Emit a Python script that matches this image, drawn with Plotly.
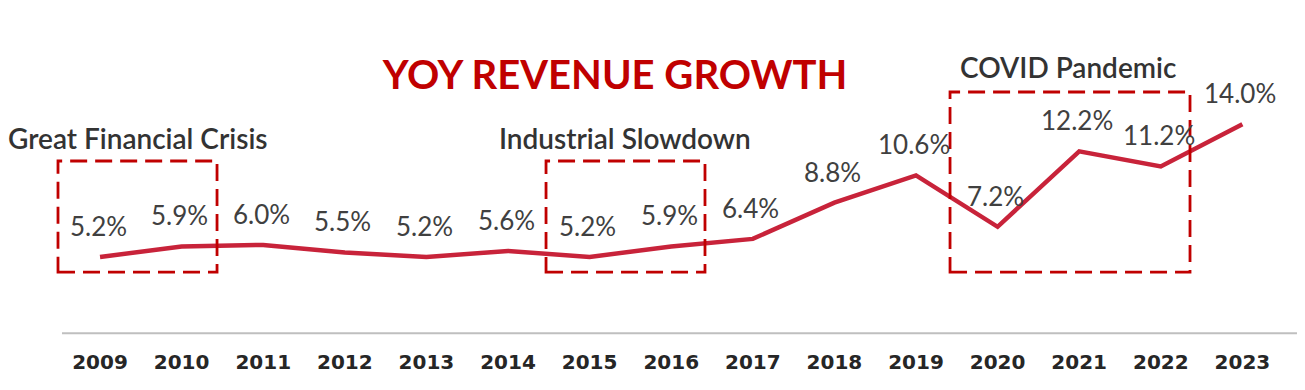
import plotly.graph_objects as go

years = [2009, 2010, 2011, 2012, 2013, 2014, 2015, 2016, 2017, 2018, 2019, 2020, 2021, 2022, 2023]
growth = [5.2, 5.9, 6.0, 5.5, 5.2, 5.6, 5.2, 5.9, 6.4, 8.8, 10.6, 7.2, 12.2, 11.2, 14.0]
tick_labels = [str(y) for y in years]

events = ["Great Financial Crisis", "Industrial Slowdown", "COVID Pandemic"]

LINE_RED = "#C8233A"
BOX_RED = "#C00000"

W, H = 1297, 382  # page body has an 8px margin

fig = go.Figure()
fig.add_trace(go.Scatter(
    x=years, y=growth, mode="lines",
    line=dict(color=LINE_RED, width=4.5),
    hoverinfo="skip", showlegend=False,
))

annotations = []
for x, v in zip(years, growth):
    annotations.append(dict(
        x=x, y=v, xref="x", yref="y", text=f"{v:.1f}%", showarrow=False,
        yshift=31, xshift=-2,
        font=dict(family="Lato", size=26, color="#404040"),
    ))

event_pos = [(2009.47, 13.05), (2015.43, 13.05), (2020.86, 17.8)]
for name, (ex, ey) in zip(events, event_pos):
    annotations.append(dict(
        x=ex, y=ey, xref="x", yref="y", text=name, showarrow=False,
        font=dict(family="Lato", size=28, color="#333333", weight=600),
    ))

boxes = [(2008.485, 2010.434, 4.2, 11.56),
         (2014.466, 2016.414, 4.2, 11.56),
         (2019.417, 2022.358, 4.2, 16.13)]
shapes = []
for x0, x1, y0, y1 in boxes:
    shapes.append(dict(
        type="rect", xref="x", yref="y", x0=x0, x1=x1, y0=y0, y1=y1,
        line=dict(color=BOX_RED, width=2.8, dash="17px,8px"),
        fillcolor="rgba(0,0,0,0)", layer="above",
    ))
shapes.append(dict(
    type="line", xref="x", yref="y", x0=2008.534, x1=2023.669, y0=0.15, y1=0.15,
    line=dict(color="#BFBFBF", width=2),
))

fig.update_layout(
    width=W, height=H,
    margin=dict(l=42, r=5, t=12, b=50),
    paper_bgcolor="white", plot_bgcolor="white",
    title=dict(
        text="YOY REVENUE GROWTH", x=(615 - 8) / W, y=1 - (75 - 8) / H,
        xanchor="center", yanchor="middle", xref="container", yref="container",
        font=dict(family="Lato", size=40, color=BOX_RED, weight="bold"),
    ),
    xaxis=dict(
        range=[2008.387, 2023.706], tickvals=years, ticktext=tick_labels,
        showgrid=False, zeroline=False, showline=False, ticks="",
        ticklabelstandoff=8,
        tickfont=dict(family="DejaVu Sans", size=20, color="#262626", weight="bold"),
        fixedrange=True,
    ),
    yaxis=dict(
        range=[-0.3, 20.9], visible=False, showgrid=False, zeroline=False,
        fixedrange=True,
    ),
    annotations=annotations,
    shapes=shapes,
)

fig.write_html("out.html")
